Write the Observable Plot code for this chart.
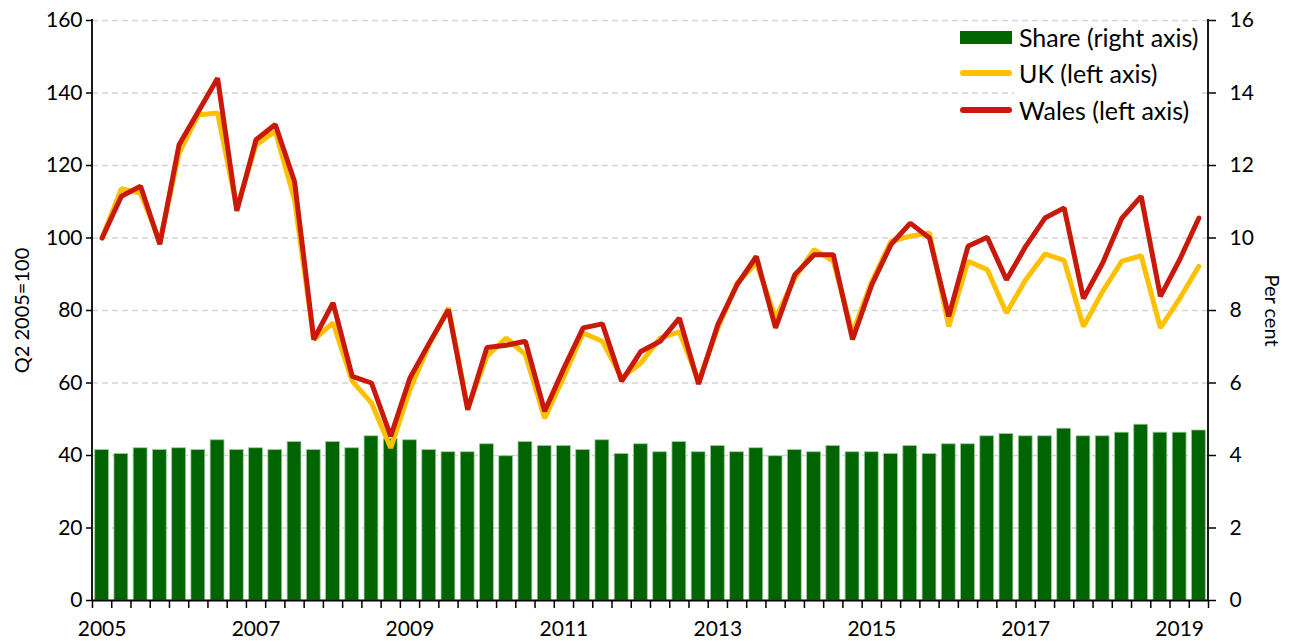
<!DOCTYPE html>
<html>
<head>
<meta charset="utf-8">
<script src="https://cdn.jsdelivr.net/npm/d3@7"></script>
<script src="https://cdn.jsdelivr.net/npm/@observablehq/plot@0.6"></script>
<style>
  html, body { margin: 0; padding: 0; background: #fff; }
  #wrap { position: relative; width: 1290px; height: 642px; font-family: Lato, "Noto Sans", sans-serif; }
  #legend { position: absolute; left: 958px; top: 24px; width: 244px; height: 102px; }
  #legend .bg { position: absolute; left: 56px; top: 0; width: 188px; height: 102px; background: #fff; }
  #legend .row { position: absolute; left: 0; height: 30px; display: flex; align-items: center; font-size: 25px; color: #000; white-space: nowrap; }
  #legend .sw { width: 52px; margin-left: 2px; margin-right: 7px; }
</style>
</head>
<body>
<div id="wrap"></div>
<script>
// ---- Data ----
const quarters = [
  "2005 Q2","2005 Q3","2005 Q4","2006 Q1","2006 Q2","2006 Q3","2006 Q4","2007 Q1",
  "2007 Q2","2007 Q3","2007 Q4","2008 Q1","2008 Q2","2008 Q3","2008 Q4","2009 Q1",
  "2009 Q2","2009 Q3","2009 Q4","2010 Q1","2010 Q2","2010 Q3","2010 Q4","2011 Q1",
  "2011 Q2","2011 Q3","2011 Q4","2012 Q1","2012 Q2","2012 Q3","2012 Q4","2013 Q1",
  "2013 Q2","2013 Q3","2013 Q4","2014 Q1","2014 Q2","2014 Q3","2014 Q4","2015 Q1",
  "2015 Q2","2015 Q3","2015 Q4","2016 Q1","2016 Q2","2016 Q3","2016 Q4","2017 Q1",
  "2017 Q2","2017 Q3","2017 Q4","2018 Q1","2018 Q2","2018 Q3","2018 Q4","2019 Q1",
  "2019 Q2","2019 Q3"
];
// Share (per cent, right axis)
const share = [
  4.15,4.04,4.20,4.15,4.20,4.15,4.42,4.15,4.20,4.15,
  4.37,4.15,4.37,4.20,4.53,4.45,4.42,4.15,4.09,4.09,
  4.31,3.98,4.37,4.26,4.26,4.15,4.42,4.04,4.31,4.09,
  4.37,4.09,4.26,4.09,4.20,3.98,4.15,4.09,4.26,4.09,
  4.09,4.04,4.26,4.04,4.31,4.31,4.53,4.59,4.53,4.53,
  4.74,4.53,4.53,4.63,4.85,4.63,4.63,4.69
];
// UK index (Q2 2005=100, left axis)
const uk = [
  100,113.6,112.4,99.0,123.4,134.0,134.5,108.3,125.7,129.4,110.6,72.0,
  76.6,60.5,54.5,42.1,58.2,70.6,80.7,53.1,67.4,72.4,67.8,50.3,
  61.8,73.8,71.5,61.4,65.5,72.4,74.1,60.5,75.2,87.6,93.1,
  77.9,89.0,96.8,93.6,73.8,88.0,99.1,100.5,101.4,75.6,93.6,91.3,
  79.3,88.5,95.6,93.8,75.6,85.3,93.6,95.1,75.2,83.3,92.2
];
// Wales index (Q2 2005=100, left axis)
const wales = [
  100,111.5,114.3,98.3,125.7,134.9,144.1,107.5,127.1,131.3,115.6,72.0,
  82.1,61.8,60.0,45.3,61.4,71.0,80.2,52.6,69.8,70.4,71.5,52.2,
  64.1,75.2,76.3,60.5,68.7,71.5,77.9,59.7,76.1,87.1,94.9,
  75.2,89.9,95.4,95.4,72.0,87.1,98.2,104.1,100.0,78.4,97.7,100.2,
  88.5,97.7,105.5,108.3,83.3,93.1,105.5,111.5,83.9,94.0,105.5
];
const yearTickQuarters = ["2005 Q2","2007 Q2","2009 Q2","2011 Q2","2013 Q2","2015 Q2","2017 Q2","2019 Q2"];
const yearTickLabels = ["2005","2007","2009","2011","2013","2015","2017","2019"];
const leftTicks = [0,20,40,60,80,100,120,140,160];
const rightTicks = [0,2,4,6,8,10,12,14,16];
const RIGHT_FACTOR = 10; // 16 per cent on right axis == 160 on left axis

const series = [
  {name: "Share (right axis)", color: "#006400", kind: "bar"},
  {name: "UK (left axis)", color: "#FFC000", kind: "line"},
  {name: "Wales (left axis)", color: "#C8190B", kind: "line"}
];

const data = quarters.map((q, i) => ({q, share: share[i], uk: uk[i], wales: wales[i]}));

// ---- Layout ----
const W = 1290, H = 642, mL = 92, mR = 82, mT = 20, mB = 42;
const step = (W - mL - mR) / quarters.length;
const labelMap = new Map(yearTickQuarters.map((q, i) => [q, yearTickLabels[i]]));

const plot = Plot.plot({
  width: W, height: H,
  marginLeft: mL, marginRight: mR, marginTop: mT, marginBottom: mB,
  style: {fontFamily: "Lato, 'Noto Sans', sans-serif", fontSize: "21px", color: "#000", background: "#fff", overflow: "visible"},
  x: {type: "band", domain: quarters, paddingInner: 0.28, paddingOuter: 0.14, round: false, axis: null},
  y: {domain: [0, 160], axis: null},
  marks: [
    Plot.gridY(leftTicks.filter(d => d > 0), {stroke: "#d4d4d4", strokeOpacity: 1, strokeWidth: 1.6, strokeDasharray: "6,4"}),
    Plot.barY(data, {x: "q", y: d => d.share * RIGHT_FACTOR, fill: "#006400", stroke: "#9fca9f", strokeWidth: 0.8}),
    Plot.line(data, {x: "q", y: "uk", stroke: "#FFC000", strokeWidth: 5, strokeLinejoin: "miter", strokeLinecap: "round"}),
    Plot.line(data, {x: "q", y: "wales", stroke: "#C8190B", strokeWidth: 5, strokeLinejoin: "miter", strokeLinecap: "round"}),
    Plot.axisY(leftTicks, {anchor: "left", tickSize: 6, tickPadding: 4, label: null, stroke: "#000", strokeWidth: 1.5}),
    Plot.axisY(rightTicks.map(d => d * RIGHT_FACTOR), {anchor: "right", tickSize: 7, tickPadding: 14, tickFormat: d => String(d / RIGHT_FACTOR), label: null, stroke: "#000", strokeWidth: 1.5}),
    Plot.axisX(quarters, {anchor: "bottom", tickSize: 8, tickFormat: () => "", label: null, dx: -step / 2, stroke: "#000", strokeWidth: 1.5}),
    Plot.axisX([quarters[quarters.length - 1]], {anchor: "bottom", tickSize: 8, tickFormat: () => "", label: null, dx: step / 2, stroke: "#000", strokeWidth: 1.5}),
    Plot.axisX(yearTickQuarters, {anchor: "bottom", tickSize: 0, tickPadding: 21, tickFormat: d => labelMap.get(d), label: null}),
    Plot.ruleY([0], {stroke: "#000", strokeWidth: 1.8}),
    Plot.text(["Q2 2005=100"], {frameAnchor: "left", textAnchor: "middle", rotate: -90, dx: -70, fontSize: 20, fill: "#000"}),
    Plot.text(["Per cent"], {frameAnchor: "right", textAnchor: "middle", rotate: 90, dx: 63, fontSize: 20, fill: "#000"})
  ]
});

// vertical axis lines (left and right)
const svg = d3.select(plot);
[mL, W - mR].forEach(x => {
  svg.append("line")
    .attr("x1", x).attr("x2", x)
    .attr("y1", mT - 1).attr("y2", H - mB)
    .attr("stroke", "#000").attr("stroke-width", 1.8);
});

const wrap = document.getElementById("wrap");
wrap.appendChild(plot);

// legend
const legend = document.createElement("div");
legend.id = "legend";
legend.innerHTML = `<div class="bg"></div>`;
const rowTops = [-2, 34, 71];
series.forEach((s, i) => {
  const row = document.createElement("div");
  row.className = "row";
  row.style.top = rowTops[i] + "px";
  const sw = document.createElement("div");
  sw.className = "sw";
  if (s.kind === "bar") {
    sw.style.height = "13px";
    sw.style.background = s.color;
  } else {
    sw.style.height = "6px";
    sw.style.borderRadius = "3px";
    sw.style.background = s.color;
  }
  const label = document.createElement("span");
  label.textContent = s.name;
  row.appendChild(sw);
  row.appendChild(label);
  legend.appendChild(row);
});
wrap.appendChild(legend);
</script>
</body>
</html>
